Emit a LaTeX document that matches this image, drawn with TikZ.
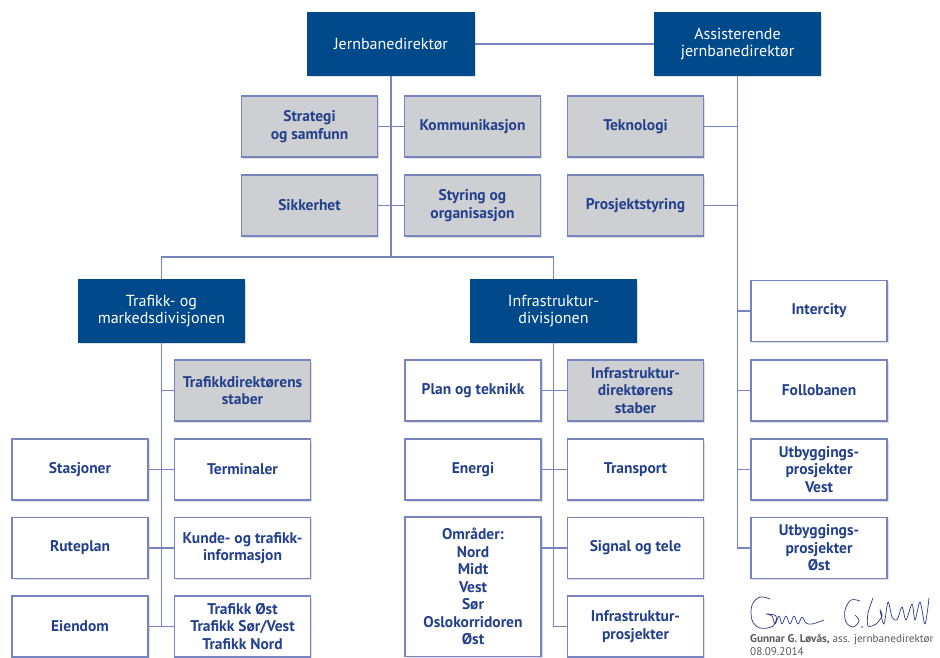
\documentclass[tikz,border=0pt]{standalone}
\usepackage{fontspec}
\setmainfont{PT Sans}
\definecolor{BaneNavy}{RGB}{0,74,140}
\definecolor{TekstBlue}{RGB}{35,64,140}
\definecolor{LinjeBlue}{RGB}{120,132,192}
\definecolor{StabGray}{RGB}{205,207,210}
\definecolor{SignGray}{RGB}{90,90,90}
\definecolor{InkBlue}{RGB}{45,60,130}
\usetikzlibrary{positioning, shadows, calc}

\begin{document}
\begin{tikzpicture}[x=1pt, y=-1pt,
	boks/.style={rectangle, draw=LinjeBlue, line width=1.3pt,
		minimum width=136pt, minimum height=61pt, align=center,
		inner sep=2pt, text=TekstBlue,
		font=\fontsize{15.5}{17.5}\selectfont\bfseries,
		drop shadow={opacity=0.25, shadow xshift=1.5pt, shadow yshift=-1.5pt}},
	leder/.style={boks, draw=BaneNavy, fill=BaneNavy, text=white,
		minimum width=166pt, minimum height=62pt,
		font=\fontsize{16}{17.5}\selectfont},
	stab/.style={boks, fill=StabGray},
	enhet/.style={boks, fill=white},
	lin/.style={draw=LinjeBlue, line width=1.3pt},
	signtekst/.style={inner sep=0pt, text=SignGray, font=\fontsize{11.2}{13}\selectfont},
	signatur/.style={draw=InkBlue, line width=0.7pt, line cap=round, line join=round}]

	\useasboundingbox (0,0) rectangle (940,657);

	\node[leder] (jd) at (391,44) {Jernbanedirekt\o r};
	\node[leder] (ajd) at (737.5,44) {Assisterende\\ jernbanedirekt\o r};

	\node[stab] (strat) at (309.5,126.5) {Strategi\\ og samfunn};
	\node[stab] (komm) at (472.5,126.5) {Kommunikasjon};
	\node[stab] (tekn) at (635.5,126.5) {Teknologi};
	\node[stab] (sikk) at (309.5,205.5) {Sikkerhet};
	\node[stab] (styr) at (472.5,205.5) {Styring og\\ organisasjon};
	\node[stab] (pstyr) at (635.5,205.5) {Prosjektstyring};

	\node[leder] (tmd) at (161.5,311) {Trafikk- og\\ markedsdivisjonen};
	\node[leder] (idiv) at (553.5,311) {Infrastruktur-\\ divisjonen};

	\node[stab] (tds) at (242.5,390.5) {Trafikkdirekt\o rens\\ staber};
	\node[enhet] (stas) at (80,469.5) {Stasjoner};
	\node[enhet] (term) at (242.5,469.5) {Terminaler};
	\node[enhet] (rute) at (80,548) {Ruteplan};
	\node[enhet] (kunde) at (242.5,548) {Kunde- og trafikk-\\ informasjon};
	\node[enhet] (eien) at (80,626.5) {Eiendom};
	\node[enhet] (trost) at (242.5,626.5) {Trafikk \O st\\ Trafikk S\o r/Vest\\ Trafikk Nord};

	\node[enhet] (plan) at (473,390.5) {Plan og teknikk};
	\node[stab] (ids) at (635.5,390.5) {Infrastruktur-\\ direkt\o rens\\ staber};
	\node[enhet] (energi) at (473,469.5) {Energi};
	\node[enhet] (transp) at (635.5,469.5) {Transport};
	\node[enhet, minimum height=139.5pt] (omr) at (473,586.75)
		{Omr\aa der:\\ Nord\\ Midt\\ Vest\\ S\o r\\ Oslokorridoren\\ \O st};
	\node[enhet] (sign) at (635.5,548) {Signal og tele};
	\node[enhet] (iprosj) at (635.5,626.5) {Infrastruktur-\\ prosjekter};

	\node[enhet] (ic) at (819,311) {Intercity};
	\node[enhet] (follo) at (819,390.5) {Follobanen};
	\node[enhet] (uvest) at (819,469.5) {Utbyggings-\\ prosjekter\\ Vest};
	\node[enhet] (uost) at (819,548) {Utbyggings-\\ prosjekter\\ \O st};

	\coordinate (bus) at (391,257);

	\draw[lin] (jd) -- (ajd);
	\draw[lin] (jd.south) -- (bus);
	\draw[lin] (tmd.north) |- (bus) -| (idiv.north);
	\draw[lin] (strat) -- (komm);
	\draw[lin] (sikk) -- (styr);
	\draw[lin] (ajd.south) |- (uost.west);
	\draw[lin] (tekn.east) -- (tekn.east -| ajd.south);
	\draw[lin] (pstyr.east) -- (pstyr.east -| ajd.south);
	\draw[lin] (ic.west) -- (ic.west -| ajd.south);
	\draw[lin] (follo.west) -- (follo.west -| ajd.south);
	\draw[lin] (uvest.west) -- (uvest.west -| ajd.south);

	\draw[lin] (tmd.south) -- (tmd.south |- eien.east);
	\draw[lin] (tds.west) -- (tds.west -| tmd.south);
	\draw[lin] (stas) -- (term);
	\draw[lin] (rute) -- (kunde);
	\draw[lin] (eien) -- (trost);

	\draw[lin] (idiv.south) |- (iprosj.west);
	\draw[lin] (plan) -- (ids);
	\draw[lin] (energi) -- (transp);
	\draw[lin] (sign.west) -- (sign.west -| omr.east);

	\draw[signatur] plot[smooth, tension=0.6] coordinates {(770,599) (760,597) (752,605)
		(752,620) (760,628) (773,626) (776,616) (766,614) (772,616) (775,624) (779,616)
		(782,624) (786,616) (790,624) (794,616) (798,624) (802,617) (806,623) (812,624) (824,620)};
	\draw[signatur] plot[smooth, tension=0.6] coordinates {(860,601) (851,600) (845,610)
		(846,622) (853,627) (859,621) (855,615)};
	\fill[InkBlue] (862,627) circle (0.9);
	\draw[signatur] plot[smooth, tension=0.5] coordinates {(873,598) (868,613) (868,626)
		(876,624) (882,616) (880,610) (884,624) (888,602) (892,617) (897,620) (902,607)
		(906,620) (912,604) (915,620) (920,602) (925,624) (929,598)};

	\node[signtekst, anchor=west] (navn) at (750,640)
		{\textbf{Gunnar G. L\o v\aa s,} ass. jernbanedirekt\o r};
	\node[signtekst, anchor=north west] (dato) at ([yshift=-2pt]navn.south west) {08.09.2014};
\end{tikzpicture}
\end{document}
